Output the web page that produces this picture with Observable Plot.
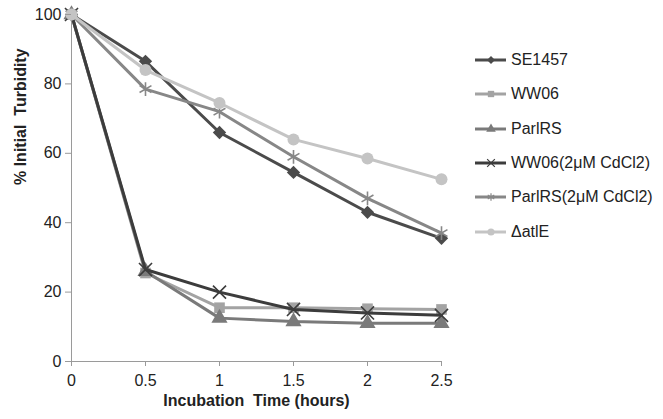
<!DOCTYPE html>
<html>
<head>
<meta charset="utf-8">
<script src="https://cdn.jsdelivr.net/npm/d3@7"></script>
<script src="https://cdn.jsdelivr.net/npm/@observablehq/plot@0.6"></script>
<style>
  html, body { margin: 0; padding: 0; background: #fff; }
  #wrap { position: relative; width: 663px; height: 419px; font-family: "Liberation Sans", Arial, sans-serif; }
  #legend { position: absolute; left: 474px; top: 51px; }
  .entry { position: absolute; left: 0; height: 18px; display: flex; align-items: center; white-space: nowrap; font-size: 16px; color: #222; }
  .entry svg { margin-right: 4px; }
</style>
</head>
<body>
<div id="wrap"><div id="legend"></div></div>
<script>
// ---- data ----
const times = [0, 0.5, 1, 1.5, 2, 2.5];
const seriesNames = ["SE1457", "WW06", "ParlRS", "WW06(2μM CdCl2)", "ParlRS(2μM CdCl2)", "ΔatlE"];
const se1457 = [100, 86.5, 66, 54.5, 43, 35.5];
const ww06 = [100, 25.5, 15.5, 15.5, 15.2, 15];
const parlRS = [100, 26, 12.5, 11.5, 11, 11];
const ww06Cd = [100, 26.5, 20, 15, 14, 13.3];
const parlRSCd = [100, 78.5, 72, 59, 47, 37];
const deltaAtlE = [100, 84, 74.5, 64, 58.5, 52.5];
const yTicks = [0, 20, 40, 60, 80, 100];
const xTicks = [0, 0.5, 1, 1.5, 2, 2.5];
const xTitle = "Incubation  Time (hours)";
const yTitle = "% Initial  Turbidity";

// ---- styling per series ----
const styles = [
  {color: "#4b4b4b", symbol: "diamond2", filled: true, r: 6},
  {color: "#a3a3a3", symbol: "square", filled: true, r: 6},
  {color: "#7a7a7a", symbol: "triangle", filled: true, r: 6},
  {color: "#3c3c3c", symbol: "times", filled: false, r: 6},
  {color: "#878787", symbol: "asterisk", filled: false, r: 6.5},
  {color: "#c4c4c4", symbol: "circle", filled: true, r: 6}
];
const allValues = [se1457, ww06, parlRS, ww06Cd, parlRSCd, deltaAtlE];
const table = seriesNames.map((name, i) => times.map((t, j) => ({series: name, time: t, value: allValues[i][j]})));

const marks = [];
marks.push(Plot.ruleX([0], {stroke: "#9a9a9a", strokeWidth: 1}));
marks.push(Plot.ruleY([0], {stroke: "#9a9a9a", strokeWidth: 1}));
table.forEach((rows, i) => {
  const s = styles[i];
  marks.push(Plot.line(rows, {x: "time", y: "value", stroke: s.color, strokeWidth: 3, strokeLinejoin: "round"}));
  marks.push(Plot.dot(rows, {x: "time", y: "value", symbol: () => s.symbol, r: s.r,
    fill: s.filled ? s.color : "none", stroke: s.filled ? "none" : s.color, strokeWidth: 1.6}));
});
marks.push(Plot.axisY({ticks: yTicks, tickSize: 6, tickPadding: 4, label: null, fontSize: 16, stroke: "#9a9a9a", color: "#222"}));
marks.push(Plot.axisX({ticks: xTicks, tickSize: 5, tickPadding: 8, label: null, fontSize: 16, stroke: "#9a9a9a", color: "#222", tickFormat: d => String(d)}));
marks.push(Plot.text([xTitle], {frameAnchor: "bottom", dy: 44, text: d => d, fontSize: 16, fontWeight: "bold", fill: "#222"}));
marks.push(Plot.text([yTitle], {frameAnchor: "left", dx: -51, dy: -3, rotate: -90, text: d => d, fontSize: 16, fontWeight: "bold", fill: "#222"}));

const chart = Plot.plot({
  width: 663,
  height: 419,
  marginLeft: 71,
  marginRight: 222,
  marginTop: 14,
  marginBottom: 58,
  style: {fontFamily: "Liberation Sans, Arial, sans-serif", background: "#fff", overflow: "visible"},
  x: {domain: [0, 2.5]},
  y: {domain: [0, 100]},
  marks
});
document.getElementById("wrap").prepend(chart);

// ---- legend ----
const legend = d3.select("#legend");
seriesNames.forEach((name, i) => {
  const s = styles[i];
  const e = legend.append("div").attr("class", "entry").style("top", (i * 34.3) + "px");
  const svg = e.append("svg").attr("width", 33).attr("height", 16);
  svg.append("line").attr("x1", 1).attr("x2", 32).attr("y1", 8).attr("y2", 8).attr("stroke", s.color).attr("stroke-width", 3);
  const sym = d3.symbol().type({diamond2: d3.symbolDiamond2, square: d3.symbolSquare, triangle: d3.symbolTriangle,
    times: d3.symbolTimes, asterisk: d3.symbolAsterisk, circle: d3.symbolCircle}[s.symbol]).size(40);
  svg.append("path").attr("d", sym()).attr("transform", "translate(17,8)")
    .attr("fill", s.filled ? s.color : "none").attr("stroke", s.filled ? "none" : s.color).attr("stroke-width", 1.2);
  e.append("span").text(name);
});
</script>
</body>
</html>
